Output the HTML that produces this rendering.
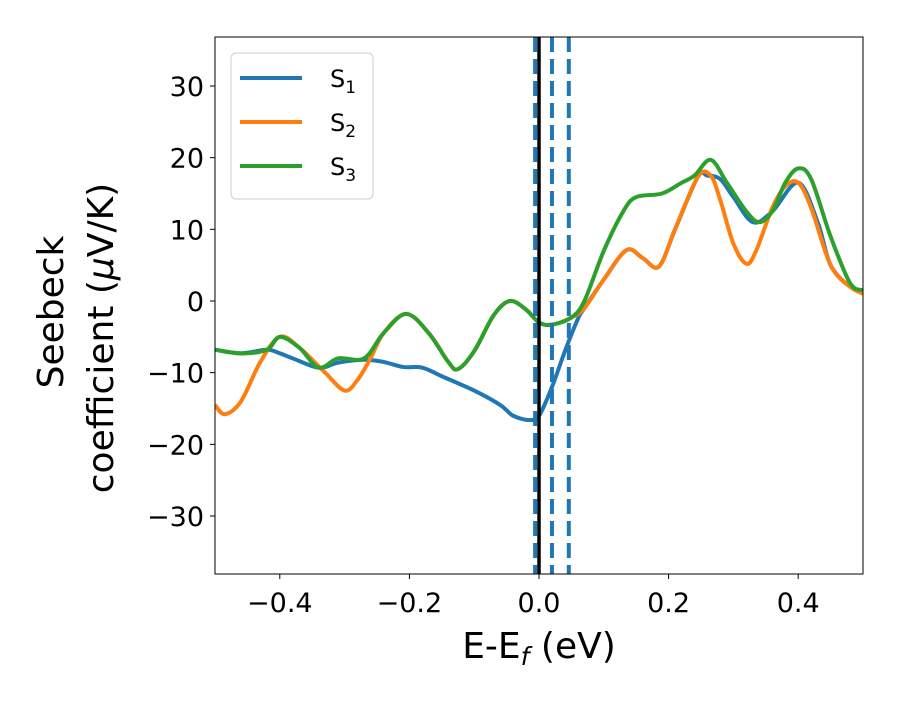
<!DOCTYPE html>
<html><head><meta charset="utf-8"><style>
body{margin:0;background:#fff;}
svg text{font-family:"DejaVu Sans","Liberation Sans",sans-serif;fill:#000;}
</style></head><body>
<svg id="chart" width="900" height="700" viewBox="0 0 900 700" xmlns="http://www.w3.org/2000/svg">
<rect width="900" height="700" fill="#fff"/>
<g id="plot"></g>
<g id="axes"></g>
<g id="legend">
  <rect x="231" y="53" width="142" height="146" rx="5" fill="#fff" stroke="#ccc" stroke-width="1"/>
  <line x1="240" y1="78" x2="302" y2="78" stroke="#1f77b4" stroke-width="4"/>
  <text x="330" y="87" font-size="24">S<tspan font-size="17" dy="6">1</tspan></text>
  <line x1="240" y1="122" x2="302" y2="122" stroke="#ff7f0e" stroke-width="4"/>
  <text x="330" y="131" font-size="24">S<tspan font-size="17" dy="6">2</tspan></text>
  <line x1="240" y1="166" x2="302" y2="166" stroke="#2ca02c" stroke-width="4"/>
  <text x="330" y="175" font-size="24">S<tspan font-size="17" dy="6">3</tspan></text>
</g>
<text x="539" y="658" font-size="36" text-anchor="middle">E-E<tspan font-style="italic" font-size="25" dy="7">f</tspan><tspan dy="-7"> (eV)</tspan></text>
<text transform="translate(63,312) rotate(-90)" font-size="36" text-anchor="middle">Seebeck</text>
<text transform="translate(113,338) rotate(-90)" font-size="36" text-anchor="middle">coefficient  (<tspan font-style="italic">μ</tspan>V/K)</text>
</svg>
<script>
const xTicks=[-0.4,-0.2,0.0,0.2,0.4];
const yTicks=[-30,-20,-10,0,10,20,30];
const vLinesDashed=[-0.006,0.02,0.046];
const s1x=[-0.5,-0.46,-0.42,-0.40,-0.38,-0.34,-0.31,-0.27,-0.24,-0.21,-0.18,-0.15,-0.10,-0.06,-0.04,-0.015,0.0,0.02,0.04,0.06,0.07,0.10,0.135,0.16,0.185,0.21,0.245,0.26,0.28,0.30,0.33,0.36,0.40,0.43,0.45,0.48,0.5];
const s1y=[-6.8,-7.3,-6.8,-7.3,-8,-9.3,-8.6,-8.2,-8.5,-9.2,-9.3,-10.5,-12.5,-14.5,-16,-16.6,-16,-12,-7,-2.5,-1,3,7.1,6,4.8,10,17.3,17.5,17,14.5,11,12.5,16.5,11,5,2,1.5];
const s2x=[-0.5,-0.485,-0.46,-0.43,-0.40,-0.37,-0.33,-0.30,-0.28,-0.26,-0.24,-0.205,-0.17,-0.14,-0.125,-0.10,-0.07,-0.045,-0.02,0,0.02,0.05,0.07,0.10,0.135,0.16,0.185,0.21,0.245,0.265,0.28,0.30,0.32,0.335,0.36,0.38,0.40,0.42,0.45,0.48,0.5];
const s2y=[-14.5,-15.8,-14,-8.5,-5,-6.5,-10,-12.5,-11,-8,-4.5,-1.8,-4.5,-8.5,-9.5,-7,-2,0,-1.2,-3,-3.3,-2.3,-1,3,7.1,6,4.8,10,17.3,17.5,14,8,5.2,7,13,16,16.5,13,5,2,1];
const s3x=[-0.5,-0.46,-0.42,-0.40,-0.37,-0.34,-0.31,-0.27,-0.24,-0.205,-0.17,-0.14,-0.125,-0.10,-0.07,-0.045,-0.02,0,0.02,0.05,0.07,0.10,0.13,0.15,0.19,0.22,0.24,0.265,0.29,0.32,0.34,0.36,0.38,0.40,0.42,0.45,0.48,0.5];
const s3y=[-6.8,-7.3,-6.8,-5,-6.5,-9.3,-8,-8,-4.5,-1.8,-4.5,-8.5,-9.5,-7,-2,0,-1.2,-3,-3.3,-2.3,0,7,12.5,14.5,15,16.5,17.5,19.7,16.5,12.5,11,12.5,16.5,18.5,17,9,2.5,1.5];
const L=215,R=863,T=37,B=574;
const xS=v=>539+v*648;
const yS=v=>301-v*7.1667;
const NS='http://www.w3.org/2000/svg';
const plot=document.getElementById('plot'),axes=document.getElementById('axes');
function mk(tag,attrs,parent){const e=document.createElementNS(NS,tag);for(const k in attrs)e.setAttribute(k,attrs[k]);parent.appendChild(e);return e;}
function pathFor(xs,ys){
  const p=xs.map((x,i)=>[xS(x),yS(ys[i])]);
  let d='M'+p[0][0]+','+p[0][1];
  for(let i=0;i<p.length-1;i++){
    const p0=p[i-1]||p[i],p1=p[i],p2=p[i+1],p3=p[i+2]||p2;
    const c1=[p1[0]+(p2[0]-p0[0])/6,p1[1]+(p2[1]-p0[1])/6];
    const c2=[p2[0]-(p3[0]-p1[0])/6,p2[1]-(p3[1]-p1[1])/6];
    d+=' C'+c1+' '+c2+' '+p2;
  }
  return d;
}
const cp=mk('clipPath',{id:'clip'},plot);
mk('rect',{x:L,y:T,width:R-L,height:B-T},cp);
const g=mk('g',{'clip-path':'url(#clip)'},plot);
const series=[[s1x,s1y,'#1f77b4','series-s1'],[s2x,s2y,'#ff7f0e','series-s2'],[s3x,s3y,'#2ca02c','series-s3']];
series.forEach(s=>{
  const e=mk('path',{d:pathFor(s[0],s[1]),fill:'none',stroke:s[2],'stroke-width':4,'stroke-linejoin':'round'},g);
  
  
});
vLinesDashed.forEach(v=>{
  const e=mk('line',{x1:xS(v),x2:xS(v),y1:T,y2:B,stroke:'#1f77b4','stroke-width':4,'stroke-dasharray':'15,7'},g);
  
  
});
const z=mk('line',{x1:xS(0),x2:xS(0),y1:T,y2:B,stroke:'#000','stroke-width':3.5},g);


const fr=mk('rect',{x:L,y:T,width:R-L,height:B-T,fill:'none',stroke:'#000','stroke-width':1},axes);


xTicks.forEach(v=>{
  mk('line',{x1:xS(v),x2:xS(v),y1:B,y2:B+5,stroke:'#000'},axes);
  const t=mk('text',{x:xS(v),y:B+38,'font-size':27,'text-anchor':'middle'},axes);
  t.textContent=(v<0?'\u2212':'')+Math.abs(v).toFixed(1);
  
  
});
yTicks.forEach(v=>{
  mk('line',{x1:L-5,x2:L,y1:yS(v),y2:yS(v),stroke:'#000'},axes);
  const t=mk('text',{x:L-11,y:yS(v)+10,'font-size':27,'text-anchor':'end'},axes);
  t.textContent=(v<0?'\u2212':'')+Math.abs(v);
  
  
});
</script>
</body></html>
